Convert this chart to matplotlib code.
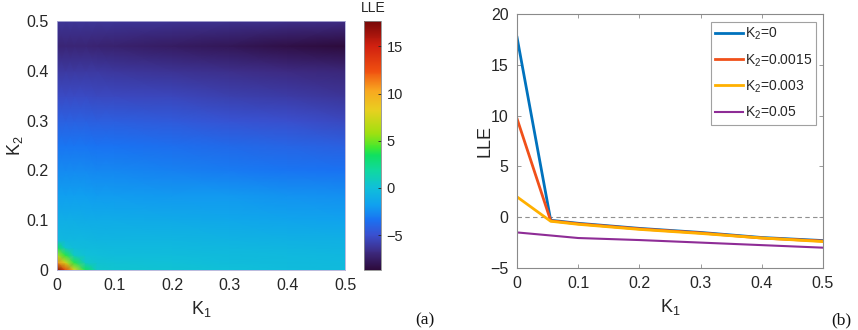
import numpy as np
import matplotlib
matplotlib.use("Agg")
import matplotlib.pyplot as plt
from matplotlib.colors import LinearSegmentedColormap

plt.rcParams['font.family'] = ['Liberation Sans', 'DejaVu Sans']
plt.rcParams['mathtext.default'] = 'regular'

# (a) LLE map over (K1, K2), values on a coarse grid
k1_grid = [0, 0.015, 0.03, 0.05, 0.07, 0.1, 0.2, 0.3, 0.4, 0.5]
k2_grid = [0, 0.015, 0.03, 0.045, 0.06, 0.1, 0.15, 0.2, 0.25, 0.3, 0.35, 0.4, 0.45, 0.5]
lle_map = [
    [17.7, 13.0, 8.0, 3.5, 0.5, 0.3, 0.2, 0.0, -0.2, -0.3],
    [11.0, 7.5, 3.8, 0.5, 0.2, 0.1, 0.0, -0.2, -0.3, -0.4],
    [6.5, 3.8, 0.6, 0.0, -0.1, -0.2, -0.2, -0.3, -0.4, -0.5],
    [3.5, 0.3, -0.2, -0.3, -0.3, -0.4, -0.4, -0.5, -0.6, -0.7],
    [-0.4, -0.5, -0.5, -0.5, -0.6, -0.6, -0.6, -0.7, -0.8, -0.9],
    [-1.0, -1.0, -1.0, -1.1, -1.1, -1.1, -1.2, -1.3, -1.5, -1.6],
    [-1.8, -1.8, -1.8, -1.8, -1.9, -1.9, -2.0, -2.1, -2.3, -2.4],
    [-2.6, -2.6, -2.6, -2.6, -2.7, -2.7, -2.9, -3.1, -3.3, -3.4],
    [-3.3, -3.3, -3.3, -3.3, -3.4, -3.4, -3.6, -3.8, -4.0, -4.2],
    [-4.2, -4.2, -4.2, -4.2, -4.3, -4.3, -4.5, -4.8, -5.0, -5.3],
    [-5.2, -5.2, -5.2, -5.2, -5.3, -5.3, -5.5, -5.8, -6.0, -6.3],
    [-6.1, -6.1, -6.1, -6.1, -6.1, -6.2, -6.4, -6.6, -6.8, -7.0],
    [-7.1, -7.1, -7.1, -7.1, -7.2, -7.3, -7.6, -7.9, -8.3, -8.7],
    [-6.3, -6.3, -6.3, -6.3, -6.3, -6.3, -6.4, -6.5, -6.6, -6.7],
]
cbar_ticks = [-5, 0, 5, 10, 15]

# (b) LLE vs K1 for a few K2 values
k1_line = [0, 0.055, 0.1, 0.2, 0.3, 0.4, 0.5]
lle_k2_0 = [17.7, -0.3, -0.6, -1.1, -1.5, -2.0, -2.3]
lle_k2_0015 = [9.7, -0.35, -0.65, -1.15, -1.55, -2.05, -2.35]
lle_k2_003 = [2.0, -0.4, -0.7, -1.2, -1.6, -2.05, -2.4]
lle_k2_05 = [-1.5, -1.8, -2.05, -2.25, -2.5, -2.75, -3.0]
line_labels = ['K$_2$=0', 'K$_2$=0.0015', 'K$_2$=0.003', 'K$_2$=0.05']

# colour map sampled from the reference colour bar
cmap = LinearSegmentedColormap.from_list('lle', [
    (0.00, '#2d0b3c'), (0.07, '#3d2a80'), (0.14, '#3a50d0'),
    (0.20, '#1a72f2'), (0.26, '#10a0f0'), (0.33, '#10c0d8'),
    (0.40, '#10d8a0'), (0.46, '#10e060'), (0.49, '#40e830'),
    (0.55, '#a0e010'), (0.64, '#e8d020'), (0.72, '#f8a820'),
    (0.80, '#f05010'), (0.90, '#d02010'), (1.00, '#780808')])

text_col = '#262626'
box_col = '#8a8a8a'
ticks01 = [0, 0.1, 0.2, 0.3, 0.4, 0.5]
ticks01_lbl = ['0', '0.1', '0.2', '0.3', '0.4', '0.5']

fig = plt.figure(figsize=(8.58, 3.3), dpi=100)

# ---- panel (a) ----
ax1 = fig.add_axes([0.0664, 0.1818, 0.3357, 0.7546])
mesh = ax1.pcolormesh(k1_grid, k2_grid, np.array(lle_map), cmap=cmap,
                      shading='gouraud', vmin=-8.7, vmax=17.7, rasterized=True)
ax1.set_xlim(0, 0.5)
ax1.set_ylim(0, 0.5)
ax1.set_xticks(ticks01)
ax1.set_xticklabels(ticks01_lbl)
ax1.set_yticks(ticks01)
ax1.set_yticklabels(ticks01_lbl)
ax1.tick_params(length=0, labelsize=11.5, colors=text_col, pad=6)
for s in ax1.spines.values():
    s.set_color('#b0b0d8')
    s.set_linewidth(0.6)
ax1.set_xlabel('K$_1$', fontsize=13, color=text_col, labelpad=4)
ax1.set_ylabel('K$_2$', fontsize=13, color=text_col, labelpad=1)

cax = fig.add_axes([0.4242, 0.1818, 0.0198, 0.7546])
cb = fig.colorbar(mesh, cax=cax)
cb.set_ticks(cbar_ticks)
cb.ax.tick_params(direction='in', length=2, width=0.6, labelsize=10.5,
                  colors=text_col, pad=4)
cb.outline.set_edgecolor(box_col)
cb.outline.set_linewidth(0.6)
fig.text(0.435, 0.975, 'LLE', ha='center', va='center', fontsize=10, color=text_col)

# ---- panel (b) ----
ax2 = fig.add_axes([0.6026, 0.1879, 0.3566, 0.7697])
ax2.axhline(0, color='#909090', lw=0.8, ls=(0, (4, 3)))
ax2.plot(k1_line, lle_k2_0, color='#0072BD', lw=2.0, label=line_labels[0])
ax2.plot(k1_line, lle_k2_0015, color='#F0501A', lw=2.0, label=line_labels[1])
ax2.plot(k1_line, lle_k2_003, color='#FFB000', lw=2.0, label=line_labels[2])
ax2.plot(k1_line, lle_k2_05, color='#8E2C96', lw=1.5, label=line_labels[3])
ax2.set_xlim(0, 0.5)
ax2.set_ylim(-5, 20)
ax2.set_xticks(ticks01)
ax2.set_xticklabels(ticks01_lbl)
ax2.set_yticks([-5, 0, 5, 10, 15, 20])
ax2.tick_params(direction='in', length=3, width=0.6, labelsize=11.5,
                colors=text_col, top=True, right=True, pad=6)
ax2.tick_params(color=box_col)
for s in ax2.spines.values():
    s.set_color(box_col)
    s.set_linewidth(0.8)
ax2.set_xlabel('K$_1$', fontsize=13, color=text_col, labelpad=4)
ax2.set_ylabel('LLE', fontsize=13, color=text_col, labelpad=-2)
leg = ax2.legend(loc='upper right', bbox_to_anchor=(0.977, 0.969), fontsize=10,
                 frameon=True, fancybox=False, handlelength=2.0,
                 handletextpad=0.15, labelspacing=0.7, borderpad=0.3,
                 borderaxespad=0)
leg.get_frame().set_edgecolor(box_col)
leg.get_frame().set_linewidth(0.8)
for t in leg.get_texts():
    t.set_color(text_col)

fig.text(0.495, 0.03, '(a)', ha='center', va='center', fontsize=12.5,
         family='Liberation Serif', color='#111111')
fig.text(0.981, 0.03, '(b)', ha='center', va='center', fontsize=12.5,
         family='Liberation Serif', color='#111111')

fig.savefig('out.png', dpi=100)
